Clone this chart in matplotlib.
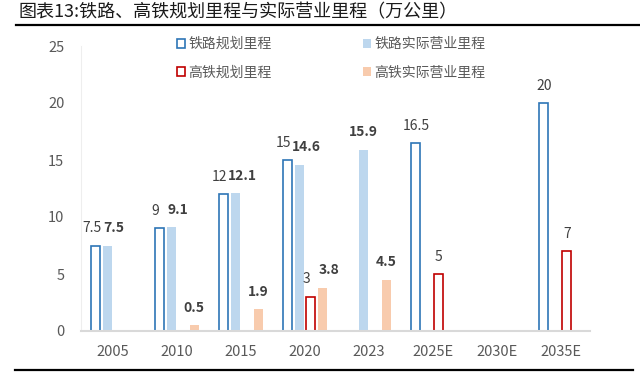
import matplotlib
matplotlib.use("Agg")
import matplotlib.pyplot as plt
import numpy as np

plt.rcParams['font.family'] = ['Noto Sans CJK SC', 'DejaVu Sans']

# ---------------- DATA ----------------
categories = ["2005", "2010", "2015", "2020", "2023", "2025E", "2030E", "2035E"]

rail_plan = [7.5, 9, 12, 15, None, 16.5, None, 20]
rail_actual = [7.5, 9.1, 12.1, 14.6, 15.9, None, None, None]
hsr_plan = [None, None, None, 3, None, 5, None, 7]
hsr_actual = [None, 0.5, 1.9, 3.8, 4.5, None, None, None]

series_names = ["铁路规划里程", "铁路实际营业里程", "高铁规划里程", "高铁实际营业里程"]

# ---------------- PLOT ----------------
fig = plt.figure(figsize=(6.4, 3.74), dpi=100)
ax = fig.add_axes([81 / 640, 1 - 331 / 374, 509 / 640, 285 / 374])

x = np.arange(len(categories))
step = 0.18
width = 0.14
label_color = "#404040"

all_series = [rail_plan, rail_actual, hsr_plan, hsr_actual]
styles = [
    dict(facecolor="white", edgecolor="#2e75b6", linewidth=1.2, bold=False),
    dict(facecolor="#bdd7ee", edgecolor="none", linewidth=0, bold=True),
    dict(facecolor="white", edgecolor="#c00000", linewidth=1.2, bold=False),
    dict(facecolor="#f8cbad", edgecolor="none", linewidth=0, bold=True),
]

handles = []
for i, (vals, name, st) in enumerate(zip(all_series, series_names, styles)):
    # planned series pair with the actual series right next to them
    partner = all_series[i + 1] if i % 2 == 0 else all_series[i - 1]
    for xi, v, pv in zip(x, vals, partner):
        if v is None:
            continue
        dx = 0
        if pv is not None:
            dx = -3 if i % 2 == 0 else 5
        ax.annotate(f"{v:g}", (xi + (i - 1.5) * step, v), xytext=(dx, 12.5),
                    textcoords="offset points", ha="center", va="center",
                    fontsize=10, color=label_color,
                    fontweight="bold" if st["bold"] else "normal")
    xs = [xi + (i - 1.5) * step for xi, v in zip(x, vals) if v is not None]
    ys = [v for v in vals if v is not None]
    bars = ax.bar(xs, ys, width=width, facecolor=st["facecolor"],
                  edgecolor=st["edgecolor"], linewidth=st["linewidth"], label=name)
    handles.append(bars)

ax.set_xlim(-0.5, 7.45)
ax.set_ylim(0, 25)
ax.set_yticks([0, 5, 10, 15, 20, 25])
ax.set_xticks(x)
ax.set_xticklabels(categories)
ax.tick_params(axis="both", length=0, labelsize=10.5, labelcolor="#595959")
ax.tick_params(axis="y", pad=12)
ax.tick_params(axis="x", pad=10)

for s in ["top", "right"]:
    ax.spines[s].set_visible(False)
ax.spines["left"].set_color("#eeeeee")
ax.spines["bottom"].set_color("#d9d9d9")
ax.spines["bottom"].set_linewidth(1.5)

# Legend (column-major: planned in col 1, actual in col 2)
order = [0, 2, 1, 3]
leg = fig.legend([handles[i] for i in order], [series_names[i] for i in order],
                 loc="upper left", bbox_to_anchor=(177 / 640, 1 - 37 / 374),
                 ncol=2, frameon=False, fontsize=10, handlelength=0.6,
                 handleheight=0.6, handletextpad=0.2, columnspacing=6.6,
                 labelspacing=1.05, borderaxespad=0, borderpad=0)
for t in leg.get_texts():
    t.set_color("#595959")

# Title and rules
fig.text(18 / 640, 1 - 12 / 374, "图表13:铁路、高铁规划里程与实际营业里程（万公里）",
         ha="left", va="center", fontsize=13, color="#1a1a1a")
fig.add_artist(plt.Line2D([16 / 640, 1.0], [1 - 25 / 374] * 2, color="black", linewidth=1.6))
fig.add_artist(plt.Line2D([15 / 640, 633 / 640], [1 - 370 / 374] * 2, color="black", linewidth=1.6))

fig.savefig("out.png", dpi=100)
plt.close(fig)
